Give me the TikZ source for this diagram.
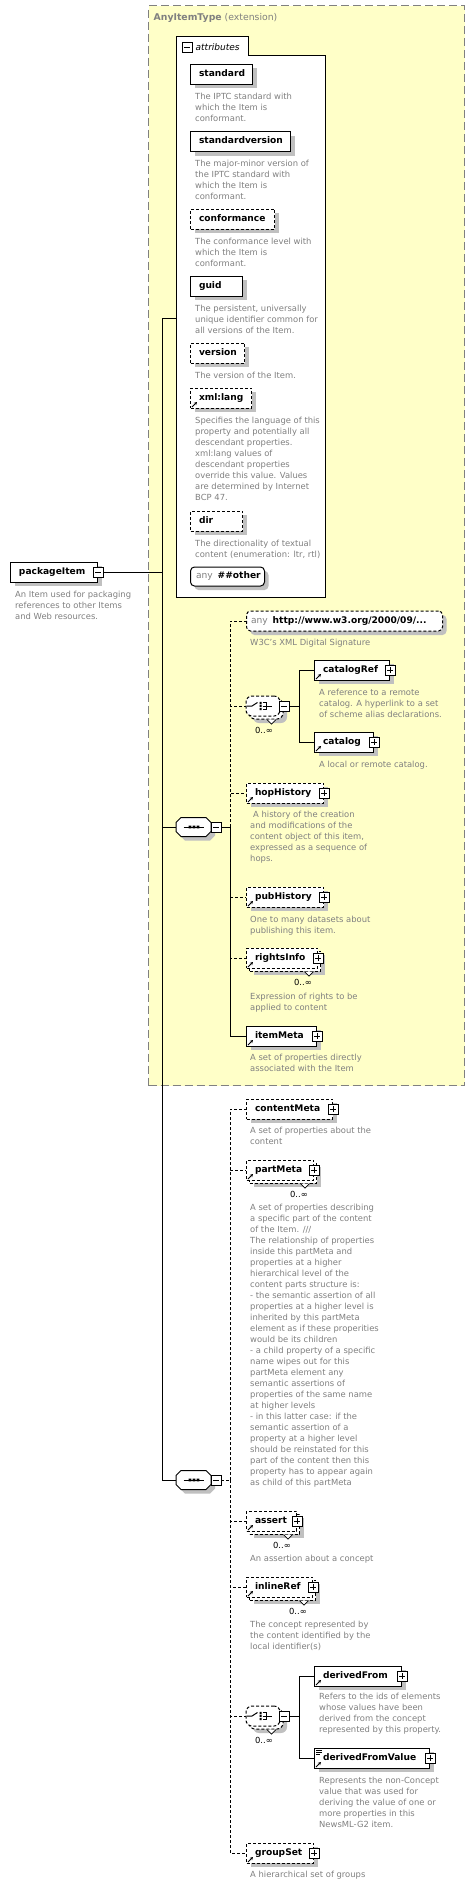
\documentclass[tikz,border=0pt]{standalone}
\usepackage{fontspec}
\setmainfont{DejaVu Sans}
\usetikzlibrary{shadows,arrows.meta}
\definecolor{ylw}{RGB}{255,255,200}
\definecolor{shadowgray}{RGB}{192,192,192}
\definecolor{descgray}{RGB}{128,128,128}
\definecolor{framegray}{RGB}{128,128,128}
\newcommand\dsc{\fontsize{8.4pt}{11pt}\selectfont}
\newcommand\lab{\fontsize{9.1pt}{10pt}\selectfont\bfseries}
\newcommand\xsElem[6]{\node[elbox,shad,#5,anchor=west] (#1) at (#2,#3) {\makebox[#4pt][l]{\hspace*{8.5pt}#6}};}
\newcommand\xsMulti[6]{%
 \node[elbox,shad,#5,anchor=west] (#1b) at (#2+3,#3+3) {\makebox[#4pt]{}};
 \node[elbox,#5,anchor=west] (#1) at (#2,#3) {\makebox[#4pt][l]{\hspace*{8.5pt}#6}};
 \draw[line width=0.7pt, fill=white] ([xshift=-16.5pt]#1b.south east) -- ++(4.5,4.5) -- ++(4.5,-4.5);
 \node[mult] (#1n) at ([xshift=-6pt,yshift=-17pt]#1.south east) {0..∞};}
\newcommand\xsPlus[1]{\node[plusbox] (#1pm) at (#1.east) {};}
\newcommand\xsRef[1]{\draw[line width=0.9pt,-{Stealth[length=3pt,width=3.2pt]}] ([xshift=2pt,yshift=1.5pt]#1.south west) -- ++(5,-5);}
\newcommand\xsDesc[4]{\node[desc] (#1) at (#2,#3-5) {\rule{0pt}{7.5pt}#4};}
\newcommand\xsSeq[2]{%
 \node[inner sep=0pt, minimum width=35pt, minimum height=19pt] (#1) at (193.5,#2) {};
 \fill[shadowgray, shift={(197.5,#2+4)}] (-17.5,-4.5) -- (-12.5,-9.5) -- (12.5,-9.5) -- (17.5,-4.5) -- (17.5,4.5) -- (12.5,9.5) -- (-12.5,9.5) -- (-17.5,4.5) -- cycle;
 \draw[line width=1pt, fill=white, shift={(193.5,#2)}] (-17.5,-4.5) -- (-12.5,-9.5) -- (12.5,-9.5) -- (17.5,-4.5) -- (17.5,4.5) -- (12.5,9.5) -- (-12.5,9.5) -- (-17.5,4.5) -- cycle;
 \draw[line width=1pt] (183.5,#2) -- (204,#2);
 \fill (188.7,#2-1.3) rectangle (191.3,#2+1.3) (192.7,#2-1.3) rectangle (195.3,#2+1.3) (196.7,#2-1.3) rectangle (199.3,#2+1.3);
 \node[minusbox] (#1m) at (216,#2) {};}
\newcommand\xsChoice[2]{%
 \node[chbox,shad] (#1b) at (266,#2+3) {};
 \node[chbox] (#1) at (263,#2) {};
 \draw[line width=0.7pt, fill=white] ([xshift=-16.5pt]#1b.south east) -- ++(4.5,4.5) -- ++(4.5,-4.5);
 \draw[line width=1pt] (247,#2) -- (252,#2) -- (257.5,#2-3.5);
 \fill (259.5,#2-4.2) rectangle (261.7,#2-2) (259.5,#2-1.1) rectangle (261.7,#2+1.1) (259.5,#2+2) rectangle (261.7,#2+4.2);
 \draw[line width=1pt] (262.5,#2-3.5) -- (266,#2-3.5) -- (266,#2+3.5) -- (262.5,#2+3.5) (262.5,#2) -- (272,#2);
 \node[minusbox] (#1m) at (284,#2) {};
 \node[mult] (#1n) at (273,#2+27) {0..∞};}
\begin{document}
\begin{tikzpicture}[x=1pt,y=-1pt,
 elbox/.style={draw=black, fill=white, line width=1pt, minimum height=20pt, inner sep=0pt, text height=6.6pt, text depth=1.8pt, font=\lab},
 opt/.style={dash pattern=on 3pt off 2pt},
 shad/.style={general shadow={fill=shadowgray, shadow xshift=4pt, shadow yshift=-4pt}},
 pmbox/.style={draw=black, fill=white, line width=0.8pt, minimum size=10pt, inner sep=0pt},
 plusbox/.style={pmbox, path picture={\draw[line width=0.8pt] ([xshift=2pt]path picture bounding box.west) -- ([xshift=-2pt]path picture bounding box.east) ([yshift=-2pt]path picture bounding box.north) -- ([yshift=2pt]path picture bounding box.south);}},
 minusbox/.style={pmbox, path picture={\draw[line width=0.8pt] ([xshift=2pt]path picture bounding box.west) -- ([xshift=-2pt]path picture bounding box.east);}},
 desc/.style={font=\dsc, text=descgray, align=left, inner sep=0pt, anchor=north west},
 mult/.style={font=\dsc, inner sep=0pt, anchor=base east},
 chbox/.style={draw=black, fill=white, line width=1pt, dash pattern=on 3pt off 2pt, rounded corners=6pt, minimum width=34pt, minimum height=20pt, inner sep=0pt},
 conn/.style={line width=1pt}]
\useasboundingbox (0,0) rectangle (475,1885);
\fill[white] (0,0) rectangle (475,1885);
% extension type box
\node[draw=framegray, fill=ylw, line width=1.2pt, dash pattern=on 8pt off 4pt, minimum width=316pt, minimum height=1080pt, anchor=north west, inner sep=0pt] (anytype) at (148,5) {};
\node[anchor=west, text=framegray, inner sep=0pt] (anytypelbl) at (153.5,18) {\fontsize{9.3pt}{11pt}\selectfont\textbf{AnyItemType} (extension)};
% attributes compartment
\draw[line width=1pt, fill=white] (176,36) -- (248,36) -- (248,55) -- (325,55) -- (325,597) -- (176,597) -- cycle;
\coordinate (attrIn) at (176,318);
\node[minusbox] (attrm) at (187,47) {};
\node[anchor=west, inner sep=0pt, font=\fontsize{9pt}{10pt}\selectfont\itshape] (attrlbl) at (195.5,47) {attributes};
\xsElem{standard}{190}{74}{62}{}{standard}
\xsDesc{dstandard}{195}{97}{The IPTC standard with\\which the Item is\\conformant.}
\xsElem{stdver}{190}{141.5}{100}{}{standardversion}
\xsDesc{dstdver}{195}{164}{The major-minor version of\\the IPTC standard with\\which the Item is\\conformant.}
\xsElem{conformance}{190}{219}{84}{opt}{conformance}
\xsDesc{dconf}{195}{242}{The conformance level with\\which the Item is\\conformant.}
\xsElem{guid}{190}{286}{52}{}{guid}
\xsDesc{dguid}{195}{309}{The persistent, universally\\unique identifier common for\\all versions of the Item.}
\xsElem{version}{190}{353}{54}{opt}{version}
\xsDesc{dversion}{195}{376}{The version of the Item.}
\xsElem{xmllang}{190}{398}{61}{opt}{xml:lang}
\xsRef{xmllang}
\xsDesc{dxmllang}{195}{421}{Specifies the language of this\\property and potentially all\\descendant properties.\\xml:lang values of\\descendant properties\\override this value. Values\\are determined by Internet\\BCP 47.}
\xsElem{dir}{190}{521}{52}{opt}{dir}
\xsDesc{ddir}{195}{543.5}{The directionality of textual\\content (enumeration: ltr, rtl)}
\node[elbox,shad,rounded corners=4pt,anchor=west,minimum height=19pt] (anyother) at (190,576.5) {\makebox[74pt][l]{\hspace*{5.5pt}{\mdseries\color{descgray}any}\hspace{5pt}\#\#other}};
% root element
\xsElem{pkg}{10}{572}{87}{}{packageItem}
\node[minusbox] (pkgm) at (pkg.east) {};
\xsDesc{dpkg}{15}{595}{An Item used for packaging\\references to other Items\\and Web resources.}
% first sequence
\xsSeq{seq1}{827}
\node[elbox,shad,opt,rounded corners=4pt,anchor=west] (anyhttp) at (246,621) {\makebox[196pt][l]{\hspace*{4.5pt}{\mdseries\color{descgray}any}\hspace{5pt}http://www.w3.org/2000/09/...}};
\xsDesc{danyhttp}{250}{643}{W3C's XML Digital Signature}
\xsChoice{ch1}{706}
\xsElem{catalogRef}{314}{670}{75}{}{catalogRef}
\xsRef{catalogRef}\xsPlus{catalogRef}
\xsDesc{dcatalogRef}{319}{693}{A reference to a remote\\catalog. A hyperlink to a set\\of scheme alias declarations.}
\xsElem{catalog}{314}{742}{59}{}{catalog}
\xsRef{catalog}\xsPlus{catalog}
\xsDesc{dcatalog}{319}{765}{A local or remote catalog.}
\xsElem{hopHistory}{246}{793}{77}{opt}{hopHistory}
\xsRef{hopHistory}\xsPlus{hopHistory}
\xsDesc{dhop}{250}{815}{\hspace*{3pt}A history of the creation\\and modifications of the\\content object of this item,\\expressed as a sequence of\\hops.}
\xsElem{pubHistory}{246}{897}{77}{opt}{pubHistory}
\xsRef{pubHistory}\xsPlus{pubHistory}
\xsDesc{dpub}{250}{920}{One to many datasets about\\publishing this item.}
\xsMulti{rightsInfo}{246}{958}{71}{opt}{rightsInfo}
\xsRef{rightsInfo}\xsPlus{rightsInfo}
\xsDesc{drights}{250}{997}{Expression of rights to be\\applied to content}
\xsElem{itemMeta}{246}{1036}{70}{}{itemMeta}
\xsRef{itemMeta}\xsPlus{itemMeta}
\xsDesc{ditemMeta}{250}{1058}{A set of properties directly\\associated with the Item}
% second sequence
\xsSeq{seq2}{1480}
\xsElem{contentMeta}{246}{1109}{86}{opt}{contentMeta}
\xsPlus{contentMeta}
\xsDesc{dcontentMeta}{250}{1131}{A set of properties about the\\content}
\xsMulti{partMeta}{246}{1170}{67}{opt}{partMeta}
\xsRef{partMeta}\xsPlus{partMeta}
\xsDesc{dpartMeta}{250}{1208}{A set of properties describing\\a specific part of the content\\of the Item. ///\\The relationship of properties\\inside this partMeta and\\properties at a higher\\hierarchical level of the\\content parts structure is:\\- the semantic assertion of all\\properties at a higher level is\\inherited by this partMeta\\element as if these properities\\would be its children\\- a child property of a specific\\name wipes out for this\\partMeta element any\\semantic assertions of\\properties of the same name\\at higher levels\\- in this latter case: if the\\semantic assertion of a\\property at a higher level\\should be reinstated for this\\part of the content then this\\property has to appear again\\as child of this partMeta}
\xsMulti{assert}{246}{1521}{50}{opt}{assert}
\xsRef{assert}\xsPlus{assert}
\xsDesc{dassert}{250}{1559}{An assertion about a concept}
\xsMulti{inlineRef}{246}{1587}{66}{opt}{inlineRef}
\xsRef{inlineRef}\xsPlus{inlineRef}
\xsDesc{dinlineRef}{250}{1625}{The concept represented by\\the content identified by the\\local identifier(s)}
\xsChoice{ch2}{1716}
\xsElem{derivedFrom}{314}{1676}{87}{}{derivedFrom}
\xsRef{derivedFrom}\xsPlus{derivedFrom}
\xsDesc{dderivedFrom}{319}{1697}{Refers to the ids of elements\\whose values have been\\derived from the concept\\represented by this property.}
\xsElem{derivedFromValue}{314}{1758}{115}{}{derivedFromValue}
\xsRef{derivedFromValue}\xsPlus{derivedFromValue}
\draw[line width=0.8pt] ([xshift=2pt,yshift=-2.5pt]derivedFromValue.north west) -- ++(6,0) ([xshift=2pt,yshift=-4.5pt]derivedFromValue.north west) -- ++(6,0) ([xshift=2pt,yshift=-6.5pt]derivedFromValue.north west) -- ++(4,0);
\xsDesc{dderivedFromValue}{319}{1781}{Represents the non-Concept\\value that was used for\\deriving the value of one or\\more properties in this\\NewsML-G2 item.}
\xsElem{groupSet}{246}{1853}{67}{opt}{groupSet}
\xsRef{groupSet}\xsPlus{groupSet}
\xsDesc{dgroupSet}{250}{1875}{A hierarchical set of groups}
% connectors
\coordinate (j0) at (162,572);
\draw[conn] (pkgm.east) -- (j0);
\draw[conn] (j0) |- (attrIn);
\draw[conn] (j0) |- (seq1.west);
\draw[conn] (j0) |- (seq2.west);
\coordinate (s1) at (230,827);
\draw[conn] (seq1m.east) -- (s1);
\draw[conn,opt] (s1) |- (anyhttp.west);
\draw[conn,opt] (s1) |- (ch1.west);
\draw[conn,opt] (s1) |- (hopHistory.west);
\draw[conn,opt] (s1) |- (pubHistory.west);
\draw[conn,opt] (s1) |- (rightsInfo.west);
\draw[conn] (s1) |- (itemMeta.west);
\coordinate (c1) at (299,706);
\draw[conn] (ch1m.east) -- (c1);
\draw[conn] (c1) |- (catalogRef.west);
\draw[conn] (c1) |- (catalog.west);
\coordinate (s2) at (230,1480);
\draw[conn,opt] (seq2m.east) -- (s2);
\draw[conn,opt] (s2) |- (contentMeta.west);
\draw[conn,opt] (s2) |- (partMeta.west);
\draw[conn,opt] (s2) |- (assert.west);
\draw[conn,opt] (s2) |- (inlineRef.west);
\draw[conn,opt] (s2) |- (ch2.west);
\draw[conn,opt] (s2) |- (groupSet.west);
\coordinate (c2) at (299,1716);
\draw[conn] (ch2m.east) -- (c2);
\draw[conn] (c2) |- (derivedFrom.west);
\draw[conn] (c2) |- (derivedFromValue.west);
\end{tikzpicture}
\end{document}
